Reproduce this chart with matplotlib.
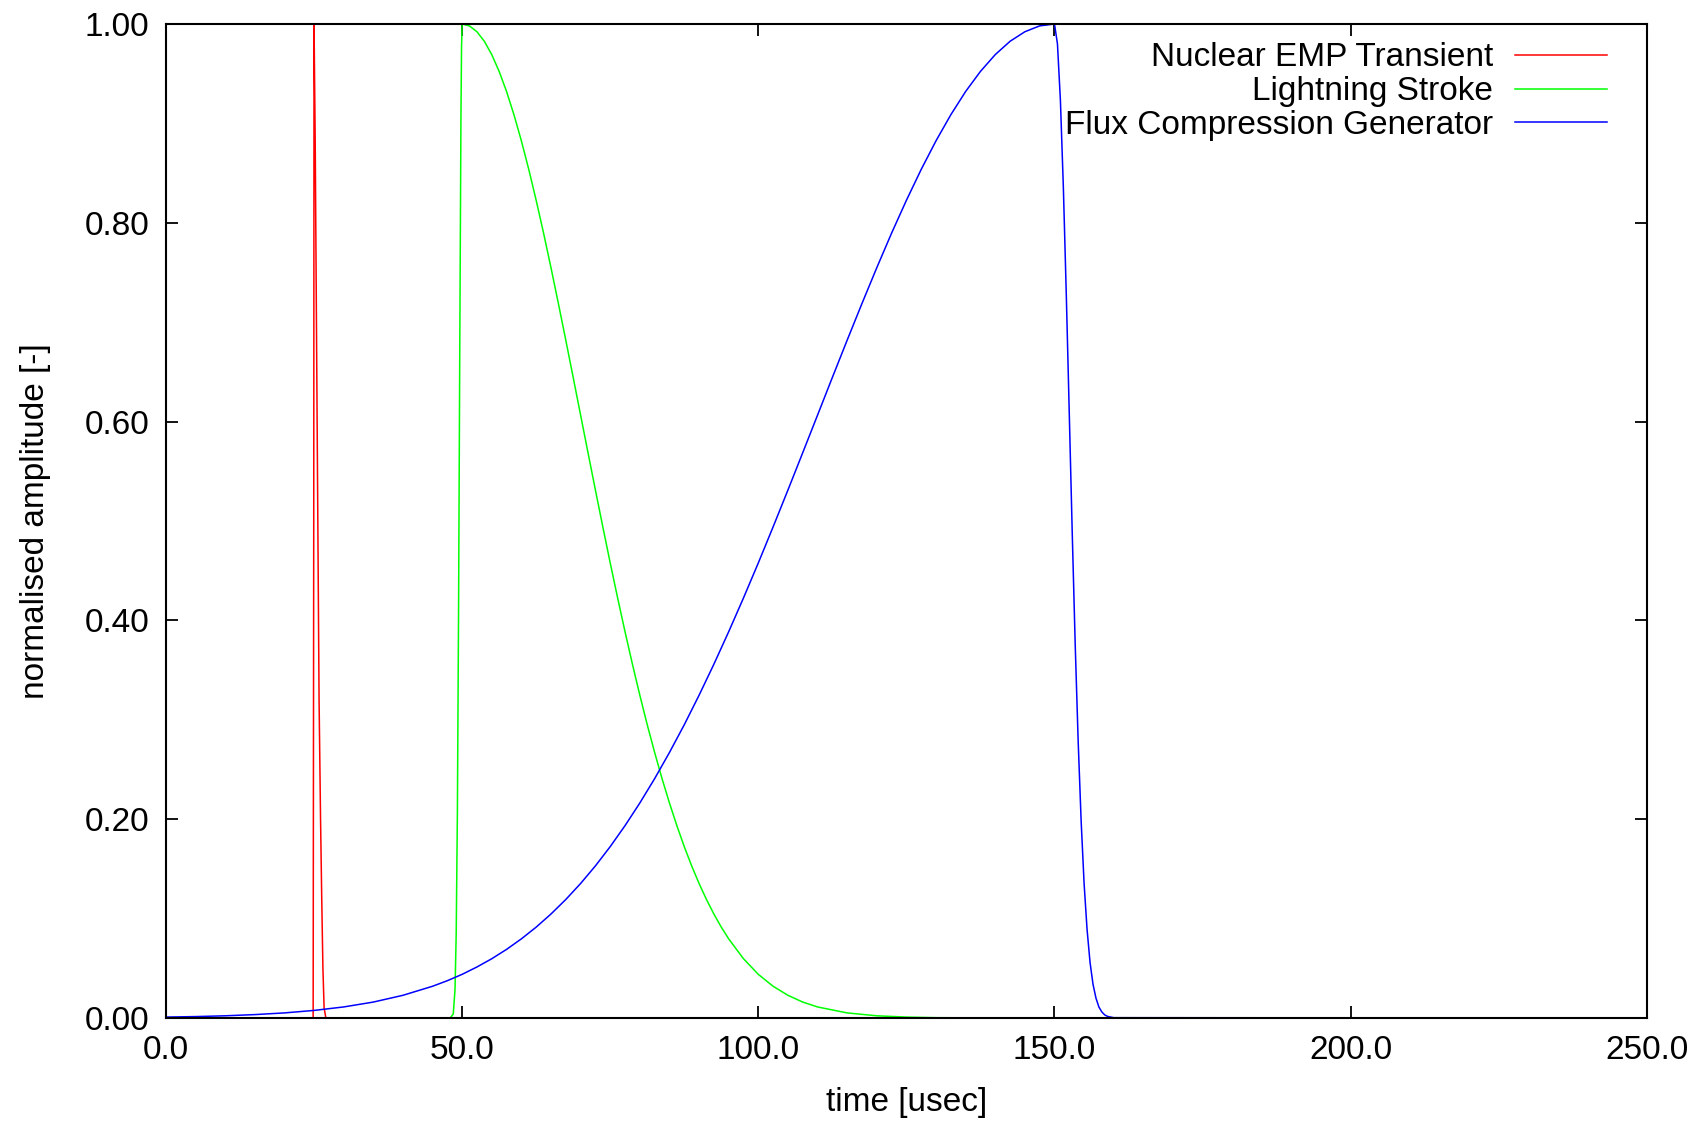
import matplotlib
matplotlib.use("Agg")
import matplotlib.pyplot as plt
from matplotlib.ticker import FormatStrFormatter

plt.rcParams['font.family'] = ['Liberation Sans', 'DejaVu Sans']

# ---- data ----
labels = ["Nuclear EMP Transient", "Lightning Stroke", "Flux Compression Generator"]
colors = ["#ff0000", "#00ff00", "#0000ff"]

emp_t = [0.0, 24.85, 24.95, 25.0, 25.2, 25.5, 25.85, 26.1, 26.3, 26.5, 26.7, 27.0, 250.0]
emp_y = [0.0, 0.0, 0.5, 1.0, 0.88, 0.62, 0.32, 0.2, 0.12, 0.05, 0.01, 0.0, 0.0]

lightning_t = [0.0, 48.0, 48.5, 48.8, 49.0, 49.2, 49.4, 49.6, 49.8, 49.9, 50.0,
               51.25, 52.5, 53.75, 55.0, 56.25, 57.5, 58.75, 60.0, 61.25, 62.5,
               63.75, 65.0, 66.25, 67.5, 68.75, 70.0, 71.25, 72.5, 73.75, 75.0,
               76.25, 77.5, 78.75, 80.0, 81.25, 82.5, 83.75, 85.0, 86.25, 87.5,
               88.75, 90.0, 91.25, 92.5, 93.75, 95.0, 97.5, 100.0, 102.5, 105.0,
               107.5, 110.0, 115.0, 120.0, 125.0, 130.0, 140.0, 250.0]
lightning_y = [0.0, 0.0, 0.004, 0.0286, 0.085, 0.206, 0.411, 0.67, 0.906, 0.976, 1.0,
               0.9980, 0.9922, 0.9826, 0.9692, 0.9523, 0.9321, 0.9087, 0.8825,
               0.8537, 0.8226, 0.7896, 0.7548, 0.7188, 0.6819, 0.6444, 0.6065,
               0.5687, 0.5311, 0.4941, 0.4578, 0.4226, 0.3886, 0.3559, 0.3247,
               0.2950, 0.2671, 0.2408, 0.2163, 0.1935, 0.1724, 0.1530, 0.1353,
               0.1192, 0.1046, 0.0914, 0.0796, 0.0596, 0.0439, 0.0319, 0.0228,
               0.0160, 0.0111, 0.0051, 0.0022, 0.0009, 0.0003, 0.0, 0.0]

flux_t = [0.0, 5.0, 10.0, 15.0, 20.0, 25.0, 30.0, 35.0, 40.0, 45.0, 47.5, 50.0,
          52.5, 55.0, 57.5, 60.0, 62.5, 65.0, 67.5, 70.0, 72.5, 75.0, 77.5,
          80.0, 82.5, 85.0, 87.5, 90.0, 92.5, 95.0, 97.5, 100.0, 102.5, 105.0,
          107.5, 110.0, 112.5, 115.0, 117.5, 120.0, 122.5, 125.0, 127.5, 130.0,
          132.5, 135.0, 137.5, 140.0, 142.5, 145.0, 147.5, 150.0,
          150.5, 151.0, 151.5, 152.0, 152.5, 153.0, 153.5, 154.0, 154.5, 155.0,
          155.5, 156.0, 156.5, 157.0, 157.5, 158.0, 158.5, 159.0, 160.0, 250.0]
flux_y = [0.0009, 0.0014, 0.0022, 0.0034, 0.0051, 0.0076, 0.0111, 0.0160, 0.0228,
          0.0319, 0.0375, 0.0439, 0.0513, 0.0596, 0.0690, 0.0796, 0.0914, 0.1046,
          0.1192, 0.1353, 0.1530, 0.1724, 0.1935, 0.2163, 0.2408, 0.2671,
          0.2950, 0.3247, 0.3559, 0.3886, 0.4226, 0.4578, 0.4941, 0.5311,
          0.5687, 0.6065, 0.6444, 0.6819, 0.7188, 0.7548, 0.7896, 0.8226,
          0.8537, 0.8825, 0.9087, 0.9321, 0.9523, 0.9692, 0.9826, 0.9922,
          0.9981, 1.0,
          0.980, 0.923, 0.835, 0.726, 0.607, 0.487, 0.375, 0.278, 0.198, 0.135,
          0.089, 0.056, 0.034, 0.020, 0.011, 0.006, 0.003, 0.0015, 0.0003, 0.0]

x_ticks = [0, 50, 100, 150, 200, 250]
y_ticks = [0.0, 0.2, 0.4, 0.6, 0.8, 1.0]

# ---- figure ----
FS = 24
fig = plt.figure(figsize=(17.02, 11.21), dpi=100)
ax = fig.add_axes([0.0975, 0.0919, 0.8701, 0.8867])

series = [(emp_t, emp_y), (lightning_t, lightning_y), (flux_t, flux_y)]
for (t, y), lab, c in zip(series, labels, colors):
    ax.plot(t, y, color=c, lw=1.1, label=lab)

ax.set_xlim(0, 250)
ax.set_ylim(0, 1)
ax.set_xticks(x_ticks)
ax.set_yticks(y_ticks)
ax.xaxis.set_major_formatter(FormatStrFormatter('%.1f'))
ax.yaxis.set_major_formatter(FormatStrFormatter('%.2f'))

for s in ax.spines.values():
    s.set_linewidth(1.5)
    s.set_zorder(5)

ax.tick_params(axis='both', direction='in', length=8.6, width=1.3,
               top=True, right=True, labelsize=FS)
ax.tick_params(axis='x', pad=12.5)
ax.tick_params(axis='y', pad=12)

ax.set_xlabel("time [usec]", fontsize=FS, labelpad=15)
ax.set_ylabel("normalised amplitude [-]", fontsize=FS, labelpad=24)

ax.legend(loc='upper right', bbox_to_anchor=(0.973, 0.9815), frameon=False,
          markerfirst=False, fontsize=FS, handlelength=2.77, handletextpad=0.65,
          labelspacing=0.085, borderpad=0, borderaxespad=0)

fig.savefig("out.png", dpi=100)
